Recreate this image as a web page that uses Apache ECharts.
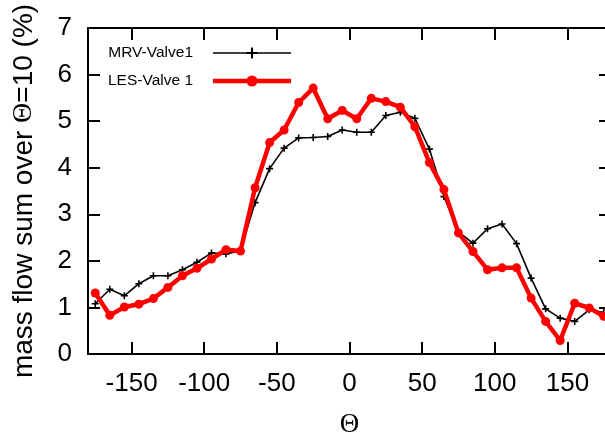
<!DOCTYPE html>
<html>
<head>
<meta charset="utf-8">
<script src="https://cdn.jsdelivr.net/npm/echarts@6/dist/echarts.min.js"></script>
<style>
html,body{margin:0;padding:0;background:#fff;}
#c{width:605px;height:435px;}
</style>
</head>
<body>
<div id="c"></div>
<script>
const theta = [-175,-165,-155,-145,-135,-125,-115,-105,-95,-85,-75,-65,-55,-45,-35,-25,-15,-5,
               5,15,25,35,45,55,65,75,85,95,105,115,125,135,145,155,165,175];
const mrvValve1 = [1.08,1.39,1.25,1.51,1.68,1.68,1.81,1.97,2.17,2.15,2.22,3.25,3.98,4.42,4.64,4.65,4.67,4.81,
                   4.76,4.76,5.12,5.19,5.06,4.40,3.38,2.62,2.38,2.69,2.79,2.37,1.63,0.97,0.77,0.70,0.95,0.89];
const lesValve1 = [1.31,0.83,1.01,1.07,1.19,1.43,1.68,1.84,2.04,2.24,2.21,3.57,4.54,4.81,5.40,5.71,5.05,5.23,
                   5.05,5.49,5.42,5.30,4.88,4.11,3.53,2.60,2.20,1.81,1.85,1.85,1.20,0.70,0.29,1.09,0.99,0.81];
const xTicks = [-150,-100,-50,0,50,100,150];
const yTicks = [0,1,2,3,4,5,6,7];
const seriesNames = ['MRV-Valve1','LES-Valve 1'];

const pair = (xs, ys) => xs.map((x, i) => [x, ys[i]]);
const SANS = '"Liberation Sans", Arial, Helvetica, sans-serif';
const SERIF = '"Liberation Serif", "DejaVu Serif", serif';
const axisLineStyle = {color:'#000', width:2};
const tickStyle = {color:'#000', width:2};

const chart = echarts.init(document.getElementById('c'), null, {renderer:'canvas'});
chart.setOption({
  animation:false,
  backgroundColor:'#fff',
  grid:{left:88, top:28, width:523, height:326, containLabel:false, outerBoundsMode:'none'},
  legend:{
    orient:'vertical', left:108, top:44, padding:0, align:'right',
    itemWidth:78, itemHeight:14, itemGap:10,
    textStyle:{fontFamily:SANS, fontSize:15.5, color:'#000', lineHeight:18, padding:[0,15,0,0]},
    lineStyle:{width:'inherit'},
    data:[
      {name:seriesNames[0], lineStyle:{width:1.6}},
      {name:seriesNames[1], lineStyle:{width:4.5}}
    ]
  },
  xAxis:[{
    type:'value', min:-180, max:180, position:'bottom',
    name:'Θ', nameLocation:'middle', nameGap:57,
    nameTextStyle:{fontFamily:SERIF, fontSize:27, color:'#000'},
    axisLine:{show:true, onZero:false, lineStyle:axisLineStyle},
    axisTick:{show:true, inside:true, length:12, lineStyle:tickStyle, customValues:xTicks},
    axisLabel:{show:true, margin:17, fontFamily:SANS, fontSize:26, color:'#000', customValues:xTicks},
    splitLine:{show:false}
  },{
    type:'value', min:-180, max:180, position:'top',
    axisLine:{show:true, onZero:false, lineStyle:axisLineStyle},
    axisTick:{show:true, inside:true, length:12, lineStyle:tickStyle, customValues:xTicks},
    axisLabel:{show:false},
    splitLine:{show:false}
  }],
  yAxis:[{
    type:'value', min:0, max:7, interval:1, position:'left',
    name:'mass flow sum over {s|Θ}=10 (%)', nameLocation:'middle', nameGap:50, nameRotate:90,
    nameTextStyle:{fontFamily:SANS, fontSize:28, color:'#000',
      rich:{s:{fontFamily:SERIF, fontSize:28, color:'#000'}}},
    axisLine:{show:true, onZero:false, lineStyle:axisLineStyle},
    axisTick:{show:true, inside:true, length:12, lineStyle:tickStyle},
    axisLabel:{show:true, margin:16, fontFamily:SANS, fontSize:26, color:'#000'},
    splitLine:{show:false}
  },{
    type:'value', min:0, max:7, interval:1, position:'right',
    axisLine:{show:true, onZero:false, lineStyle:axisLineStyle},
    axisTick:{show:true, inside:true, length:12, lineStyle:tickStyle},
    axisLabel:{show:false},
    splitLine:{show:false}
  }],
  series:[{
    name:seriesNames[0], type:'line', xAxisIndex:0, yAxisIndex:0,
    data:pair(theta, mrvValve1),
    symbol:'path://M0,-5L0,5M-5,0L5,0', symbolSize:7,
    itemStyle:{color:'#000', borderColor:'#000', borderWidth:1.6},
    lineStyle:{color:'#000', width:1.6},
    z:2
  },{
    name:seriesNames[1], type:'line', xAxisIndex:0, yAxisIndex:0,
    data:pair(theta, lesValve1),
    symbol:'circle', symbolSize:9,
    itemStyle:{color:'#ff0000'},
    lineStyle:{color:'#ff0000', width:4.5},
    z:3
  }]
});
</script>
</body>
</html>
